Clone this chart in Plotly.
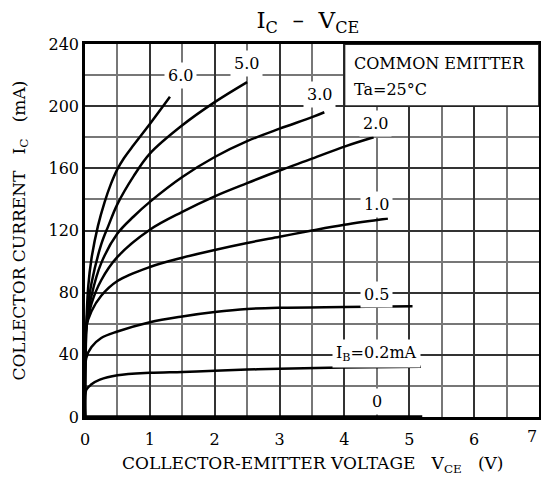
import plotly.graph_objects as go

# ---- data ----
vce_60 = [0.0, 0.02, 0.05, 0.1, 0.2, 0.3, 0.4, 0.5, 0.6, 0.75, 1.0, 1.31]
ic_60 = [0, 58, 84, 102, 123, 138, 150, 159.5, 166.5, 175, 188.5, 206]

vce_50 = [0.0, 0.02, 0.05, 0.1, 0.25, 0.36, 0.5, 0.75, 1.0, 1.5, 2.0, 2.5]
ic_50 = [0, 58, 72, 86, 111, 123, 137, 155, 169.5, 187.7, 202.6, 215.5]

vce_30 = [0.0, 0.02, 0.1, 0.25, 0.5, 0.75, 1.0, 1.5, 2.0, 2.5, 3.0, 3.5, 3.69]
ic_30 = [0, 58, 78, 99, 118, 129, 138.4, 154.4, 167.3, 177.5, 185.5, 192.9, 196.1]

vce_20 = [0.0, 0.02, 0.1, 0.25, 0.5, 1.0, 1.5, 2.0, 2.5, 3.0, 3.5, 4.0, 4.45]
ic_20 = [0, 58, 73, 88, 103, 120.5, 132, 142, 150.5, 158.6, 166.2, 174, 180]

vce_10 = [0.0, 0.02, 0.1, 0.25, 0.5, 1.0, 1.5, 2.0, 2.5, 3.0, 3.5, 4.0, 4.67]
ic_10 = [0, 58, 68, 78, 87.5, 96.5, 102.5, 107.5, 112, 116, 120, 123.7, 127.7]

vce_05 = [0.0, 0.02, 0.1, 0.25, 0.5, 1.0, 1.5, 2.0, 2.5, 3.0, 4.0, 5.05]
ic_05 = [0, 38, 45, 50.8, 55, 61, 64.7, 67.5, 69.5, 70.3, 70.8, 71.2]

vce_02 = [0.0, 0.02, 0.1, 0.23, 0.5, 1.0, 1.5, 2.0, 2.5, 3.0, 4.0, 5.18]
ic_02 = [0, 17.5, 21, 24, 26.8, 28.4, 29, 29.8, 30.5, 31, 31.8, 32.4]

vce_00 = [0.0, 5.2]
ic_00 = [0.3, 0.3]

curves = [
    (vce_60, ic_60), (vce_50, ic_50), (vce_30, ic_30), (vce_20, ic_20),
    (vce_10, ic_10), (vce_05, ic_05), (vce_02, ic_02), (vce_00, ic_00),
]

# curve labels: text, x, y
label_texts = ["6.0", "5.0", "3.0", "2.0", "1.0", "0.5", "I<sub>B</sub>=0.2mA", "0"]
label_x = [1.48, 2.49, 3.62, 4.48, 4.5, 4.5, 4.5, 4.5]
label_y = [220, 227.5, 207.5, 189, 137, 79, 41, 10]

x_ticks = [0, 1, 2, 3, 4, 5, 6, 7]
y_ticks = [0, 40, 80, 120, 160, 200, 240]

FONT = "DejaVu Serif"
FS = 16

fig = go.Figure()
for vx, vy in curves:
    fig.add_trace(go.Scatter(x=vx, y=vy, mode="lines",
                             line=dict(color="black", width=2.5, shape="spline", smoothing=1.0),
                             hoverinfo="skip", showlegend=False))

# white box with conditions (top-right)
fig.add_shape(type="rect", xref="x", yref="y", x0=4, x1=7, y0=200, y1=240,
              fillcolor="white", line=dict(color="#222", width=1.8), layer="above")

for t, lx, ly in zip(label_texts, label_x, label_y):
    fig.add_annotation(x=lx, y=ly, text=t, showarrow=False, bgcolor="white",
                       borderpad=3, font=dict(family=FONT, size=FS, color="black"))

fig.add_annotation(x=4.11, y=227.5, text="COMMON EMITTER", showarrow=False,
                   xanchor="left", font=dict(family=FONT, size=FS, color="black"))
fig.add_annotation(x=4.11, y=210.5, text="Ta=25°C", showarrow=False,
                   xanchor="left", font=dict(family=FONT, size=FS, color="black"))

# last x tick label (drawn as text so it is not hidden at the right edge)
last_x = x_ticks[-1]
fig.add_annotation(x=last_x, y=0, yanchor="top", xanchor="right", xshift=0, yshift=-8,
                   text=str(last_x), showarrow=False,
                   font=dict(family=FONT, size=FS, color="black"))

# axis titles
fig.add_annotation(xref="paper", yref="paper", x=0.5, y=-0.127, yanchor="middle",
                   text="COLLECTOR-EMITTER VOLTAGE   V<sub>CE</sub>   (V)", showarrow=False,
                   font=dict(family=FONT, size=17, color="black"))
fig.add_annotation(xref="paper", yref="paper", x=-0.143, y=0.5, textangle=-90,
                   xanchor="center", yanchor="middle",
                   text="COLLECTOR CURRENT   I<sub>C</sub>   (mA)", showarrow=False,
                   font=dict(family=FONT, size=17, color="black"))

fig.update_layout(
    width=541, height=477,
    margin=dict(l=85, r=2, t=43.5, b=59.5, autoexpand=False),
    paper_bgcolor="white", plot_bgcolor="white",
    title=dict(text="I<sub>C</sub>  –  V<sub>CE</sub>", xref="container", x=0.569,
               xanchor="center", y=0.958, yanchor="middle",
               font=dict(family=FONT, size=23, color="black")),
    font=dict(family=FONT, color="black"),
)
fig.update_xaxes(range=[0, 7], tickvals=x_ticks[:-1], ticks="", showline=True, mirror=True,
                 linecolor="black", linewidth=2.5, showgrid=True, gridcolor="#333",
                 gridwidth=1.5, zeroline=False, ticklabelstandoff=6, automargin=False,
                 tickfont=dict(family=FONT, size=FS, color="black"),
                 minor=dict(dtick=0.5, showgrid=True, gridcolor="#777", gridwidth=1.5))
fig.update_yaxes(range=[0, 240], tickvals=y_ticks, ticks="", showline=True, mirror=True,
                 linecolor="black", linewidth=2.5, showgrid=True, gridcolor="#333",
                 gridwidth=1.5, zeroline=False, automargin=False,
                 tickfont=dict(family=FONT, size=FS, color="black"),
                 minor=dict(dtick=20, showgrid=True, gridcolor="#777", gridwidth=1.5))

fig.write_html("out.html", config={"displayModeBar": False},
               post_script="document.body.style.margin='0';document.body.style.overflow='hidden';")
